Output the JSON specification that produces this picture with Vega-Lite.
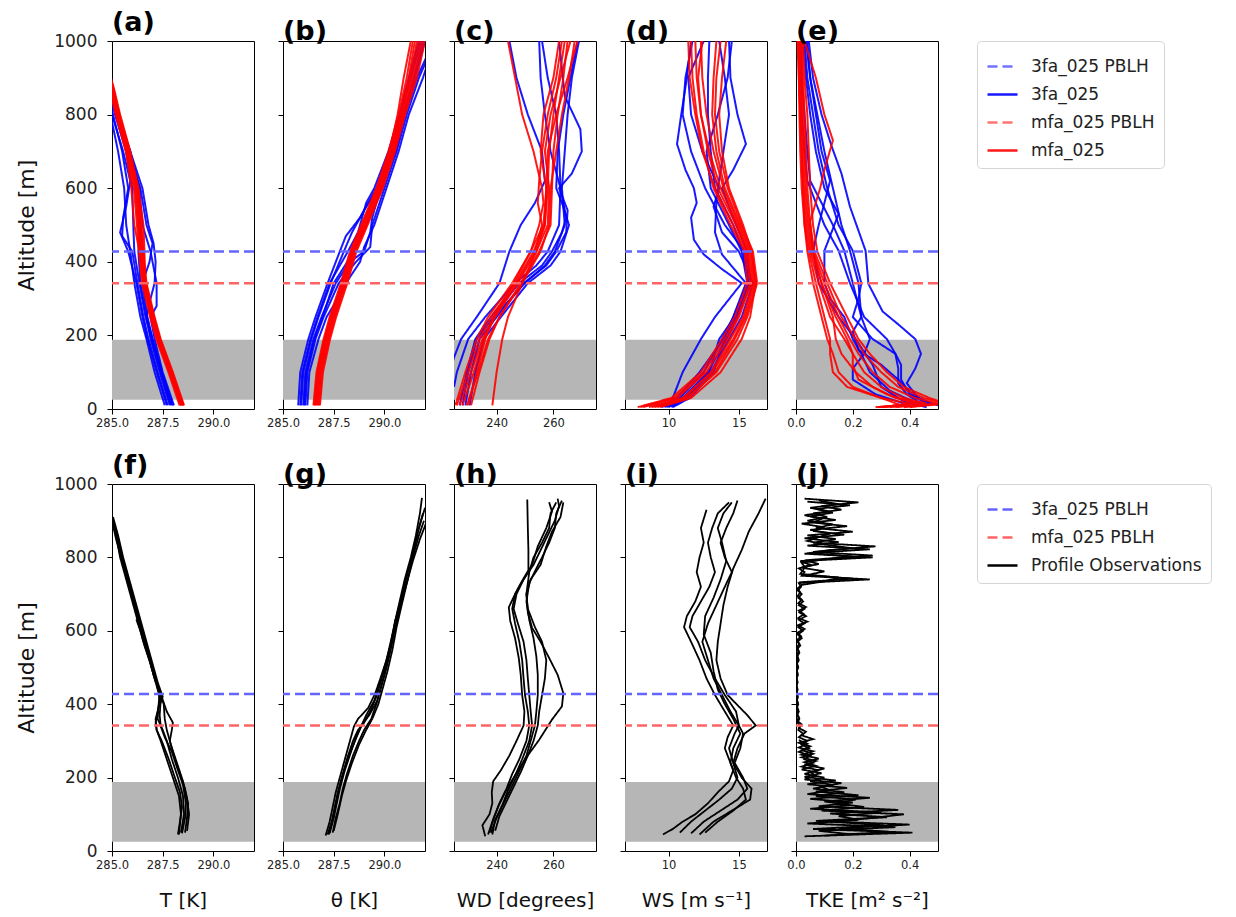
{
"$schema":"https://vega.github.io/schema/vega-lite/v6.json",
"background":"white",
"padding":{"left":15,"top":8,"right":5,"bottom":5},
"config":{
 "font":"DejaVu Sans",
 "view":{"stroke":"#000","strokeWidth":1},
 "axis":{"grid":false,"domain":false,"tickColor":"#000","tickSize":5,"labelColor":"#222","titleColor":"#111","titleFontWeight":"normal","labelFontSize":11.5,"labelPadding":3,"labelOverlap":false,"labelFlush":false},
 "title":{"anchor":"start","fontSize":27,"fontWeight":"bold","offset":-5,"color":"#000","frame":"group"},
 "legend":{"orient":"right","offset":37,"padding":9,"strokeColor":"#d5d5d5","strokeWidth":1,"cornerRadius":4,"fillColor":"white","labelFontSize":17,"labelLimit":400,"labelColor":"#222","symbolType":"stroke","symbolSize":900,"symbolStrokeWidth":2.5,"labelOffset":12,"rowPadding":3}
},
"datasets":{
"band":[{"lo":25,"hi":188}],
"pbl":[{"s":"3fa_025 PBLH","y":428},{"s":"mfa_025 PBLH","y":342}],
"a3":[
{"k":1,"y":10,"x":287.6},{"k":1,"y":100,"x":287.1},{"k":1,"y":190,"x":286.7},{"k":1,"y":250,"x":286.4},{"k":1,"y":342,"x":286.1},{"k":1,"y":428,"x":285.9},{"k":1,"y":500,"x":285.7},{"k":1,"y":600,"x":285.6},{"k":1,"y":700,"x":285.3},{"k":1,"y":780,"x":285.0},{"k":1,"y":900,"x":284.4},
{"k":2,"y":10,"x":287.75},{"k":2,"y":100,"x":287.25},{"k":2,"y":190,"x":286.8},{"k":2,"y":250,"x":286.55},{"k":2,"y":342,"x":286.25},{"k":2,"y":428,"x":286.0},{"k":2,"y":470,"x":285.5},{"k":2,"y":520,"x":285.55},{"k":2,"y":600,"x":285.8},{"k":2,"y":700,"x":285.5},{"k":2,"y":800,"x":285.05},{"k":2,"y":900,"x":284.6},
{"k":3,"y":10,"x":287.85},{"k":3,"y":100,"x":287.35},{"k":3,"y":190,"x":286.9},{"k":3,"y":250,"x":286.7},{"k":3,"y":300,"x":286.9},{"k":3,"y":342,"x":287.1},{"k":3,"y":400,"x":287.15},{"k":3,"y":450,"x":287.05},{"k":3,"y":500,"x":286.8},{"k":3,"y":600,"x":286.5},{"k":3,"y":700,"x":285.9},{"k":3,"y":800,"x":285.3},{"k":3,"y":900,"x":284.8},
{"k":4,"y":10,"x":287.95},{"k":4,"y":100,"x":287.45},{"k":4,"y":190,"x":287.0},{"k":4,"y":250,"x":286.75},{"k":4,"y":342,"x":286.5},{"k":4,"y":400,"x":286.85},{"k":4,"y":450,"x":287.0},{"k":4,"y":500,"x":286.7},{"k":4,"y":600,"x":286.4},{"k":4,"y":700,"x":285.8},{"k":4,"y":800,"x":285.2},{"k":4,"y":900,"x":284.8},
{"k":5,"y":10,"x":288.05},{"k":5,"y":100,"x":287.5},{"k":5,"y":190,"x":287.1},{"k":5,"y":250,"x":286.9},{"k":5,"y":280,"x":287.2},{"k":5,"y":342,"x":287.2},{"k":5,"y":428,"x":286.9},{"k":5,"y":500,"x":286.5},{"k":5,"y":600,"x":286.35},{"k":5,"y":700,"x":285.9},{"k":5,"y":800,"x":285.3},{"k":5,"y":900,"x":284.8},
{"k":6,"y":10,"x":287.7},{"k":6,"y":100,"x":287.2},{"k":6,"y":190,"x":286.75},{"k":6,"y":250,"x":286.5},{"k":6,"y":342,"x":286.2},{"k":6,"y":428,"x":285.8},{"k":6,"y":480,"x":285.4},{"k":6,"y":550,"x":285.7},{"k":6,"y":620,"x":285.9},{"k":6,"y":700,"x":285.55},{"k":6,"y":800,"x":285.0},{"k":6,"y":900,"x":284.5},
{"k":7,"y":10,"x":287.9},{"k":7,"y":100,"x":287.4},{"k":7,"y":190,"x":286.95},{"k":7,"y":250,"x":286.65},{"k":7,"y":342,"x":286.35},{"k":7,"y":428,"x":286.1},{"k":7,"y":500,"x":286.05},{"k":7,"y":600,"x":286.0},{"k":7,"y":700,"x":285.7},{"k":7,"y":800,"x":285.15},{"k":7,"y":900,"x":284.7},
{"k":8,"y":10,"x":288.0},{"k":8,"y":100,"x":287.45},{"k":8,"y":190,"x":287.0},{"k":8,"y":250,"x":286.7},{"k":8,"y":342,"x":286.4},{"k":8,"y":428,"x":286.3},{"k":8,"y":500,"x":286.4},{"k":8,"y":600,"x":286.3},{"k":8,"y":700,"x":285.85},{"k":8,"y":800,"x":285.25},{"k":8,"y":900,"x":284.75}
],
"am":[
{"k":1,"y":10,"x":288.33},{"k":1,"y":100,"x":287.78},{"k":1,"y":190,"x":287.18},{"k":1,"y":250,"x":286.88},{"k":1,"y":342,"x":286.48},{"k":1,"y":428,"x":286.33},{"k":1,"y":500,"x":286.23},{"k":1,"y":600,"x":286.08},{"k":1,"y":700,"x":285.68},{"k":1,"y":800,"x":285.18},{"k":1,"y":870,"x":284.88},{"k":1,"y":950,"x":284.48},
{"k":2,"y":10,"x":288.39},{"k":2,"y":100,"x":287.84},{"k":2,"y":190,"x":287.24},{"k":2,"y":250,"x":286.94},{"k":2,"y":342,"x":286.54},{"k":2,"y":428,"x":286.39},{"k":2,"y":500,"x":286.29},{"k":2,"y":600,"x":286.14},{"k":2,"y":700,"x":285.74},{"k":2,"y":800,"x":285.24},{"k":2,"y":870,"x":284.94},{"k":2,"y":950,"x":284.54},
{"k":3,"y":10,"x":288.43},{"k":3,"y":100,"x":287.88},{"k":3,"y":190,"x":287.28},{"k":3,"y":250,"x":286.98},{"k":3,"y":342,"x":286.58},{"k":3,"y":428,"x":286.43},{"k":3,"y":500,"x":286.33},{"k":3,"y":600,"x":286.18},{"k":3,"y":700,"x":285.78},{"k":3,"y":800,"x":285.28},{"k":3,"y":870,"x":284.98},{"k":3,"y":950,"x":284.58},
{"k":4,"y":10,"x":288.48},{"k":4,"y":100,"x":287.93},{"k":4,"y":190,"x":287.33},{"k":4,"y":250,"x":287.03},{"k":4,"y":342,"x":286.63},{"k":4,"y":428,"x":286.48},{"k":4,"y":500,"x":286.38},{"k":4,"y":600,"x":286.23},{"k":4,"y":700,"x":285.83},{"k":4,"y":800,"x":285.33},{"k":4,"y":870,"x":285.03},{"k":4,"y":950,"x":284.63},
{"k":5,"y":10,"x":288.52},{"k":5,"y":100,"x":287.97},{"k":5,"y":190,"x":287.37},{"k":5,"y":250,"x":287.07},{"k":5,"y":342,"x":286.67},{"k":5,"y":428,"x":286.52},{"k":5,"y":500,"x":286.42},{"k":5,"y":600,"x":286.27},{"k":5,"y":700,"x":285.87},{"k":5,"y":800,"x":285.37},{"k":5,"y":870,"x":285.07},{"k":5,"y":950,"x":284.67},
{"k":6,"y":10,"x":288.55},{"k":6,"y":100,"x":288.0},{"k":6,"y":190,"x":287.4},{"k":6,"y":250,"x":287.1},{"k":6,"y":342,"x":286.7},{"k":6,"y":428,"x":286.55},{"k":6,"y":500,"x":286.45},{"k":6,"y":600,"x":286.3},{"k":6,"y":700,"x":285.9},{"k":6,"y":800,"x":285.4},{"k":6,"y":870,"x":285.1},{"k":6,"y":950,"x":284.7},
{"k":7,"y":10,"x":288.4},{"k":7,"y":100,"x":287.85},{"k":7,"y":190,"x":287.25},{"k":7,"y":250,"x":286.95},{"k":7,"y":342,"x":286.55},{"k":7,"y":428,"x":286.35},{"k":7,"y":500,"x":286.1},{"k":7,"y":600,"x":285.95},{"k":7,"y":700,"x":285.7},{"k":7,"y":800,"x":285.25},{"k":7,"y":870,"x":284.95},{"k":7,"y":950,"x":284.55},
{"k":8,"y":10,"x":288.5},{"k":8,"y":100,"x":287.95},{"k":8,"y":190,"x":287.35},{"k":8,"y":250,"x":287.05},{"k":8,"y":342,"x":286.62},{"k":8,"y":428,"x":286.6},{"k":8,"y":500,"x":286.55},{"k":8,"y":600,"x":286.3},{"k":8,"y":700,"x":285.85},{"k":8,"y":800,"x":285.35},{"k":8,"y":870,"x":285.05},{"k":8,"y":950,"x":284.65}
],
"b3":[
{"k":1,"y":10,"x":285.75},{"k":1,"y":100,"x":285.85},{"k":1,"y":190,"x":286.25},{"k":1,"y":250,"x":286.6},{"k":1,"y":342,"x":287.2},{"k":1,"y":428,"x":287.8},{"k":1,"y":470,"x":288.1},{"k":1,"y":520,"x":288.8},{"k":1,"y":600,"x":289.6},{"k":1,"y":700,"x":290.3},{"k":1,"y":800,"x":290.8},{"k":1,"y":900,"x":291.3},{"k":1,"y":1000,"x":291.8},
{"k":2,"y":10,"x":285.9},{"k":2,"y":100,"x":286.0},{"k":2,"y":190,"x":286.4},{"k":2,"y":250,"x":286.75},{"k":2,"y":342,"x":287.35},{"k":2,"y":428,"x":288.0},{"k":2,"y":480,"x":288.4},{"k":2,"y":550,"x":289.1},{"k":2,"y":600,"x":289.7},{"k":2,"y":700,"x":290.4},{"k":2,"y":800,"x":290.9},{"k":2,"y":900,"x":291.5},{"k":2,"y":1000,"x":292.0},
{"k":3,"y":10,"x":286.0},{"k":3,"y":100,"x":286.1},{"k":3,"y":190,"x":286.5},{"k":3,"y":250,"x":286.9},{"k":3,"y":342,"x":287.6},{"k":3,"y":400,"x":288.3},{"k":3,"y":428,"x":289.0},{"k":3,"y":480,"x":289.3},{"k":3,"y":520,"x":289.4},{"k":3,"y":600,"x":289.8},{"k":3,"y":700,"x":290.55},{"k":3,"y":800,"x":291.0},{"k":3,"y":900,"x":291.6},{"k":3,"y":960,"x":292.1},
{"k":4,"y":10,"x":286.1},{"k":4,"y":100,"x":286.2},{"k":4,"y":190,"x":286.6},{"k":4,"y":250,"x":287.0},{"k":4,"y":342,"x":287.75},{"k":4,"y":400,"x":288.6},{"k":4,"y":440,"x":289.3},{"k":4,"y":500,"x":289.4},{"k":4,"y":600,"x":290.0},{"k":4,"y":700,"x":290.6},{"k":4,"y":800,"x":291.1},{"k":4,"y":900,"x":291.7},{"k":4,"y":950,"x":292.1},
{"k":5,"y":10,"x":286.2},{"k":5,"y":100,"x":286.3},{"k":5,"y":190,"x":286.75},{"k":5,"y":250,"x":287.15},{"k":5,"y":300,"x":287.7},{"k":5,"y":342,"x":288.1},{"k":5,"y":400,"x":288.8},{"k":5,"y":440,"x":289.0},{"k":5,"y":500,"x":289.5},{"k":5,"y":600,"x":290.1},{"k":5,"y":700,"x":290.7},{"k":5,"y":800,"x":291.2},{"k":5,"y":900,"x":291.9},{"k":5,"y":950,"x":292.2},
{"k":6,"y":10,"x":285.85},{"k":6,"y":100,"x":285.95},{"k":6,"y":190,"x":286.35},{"k":6,"y":250,"x":286.7},{"k":6,"y":342,"x":287.3},{"k":6,"y":428,"x":288.2},{"k":6,"y":480,"x":288.7},{"k":6,"y":560,"x":289.1},{"k":6,"y":600,"x":289.5},{"k":6,"y":700,"x":290.2},{"k":6,"y":800,"x":290.75},{"k":6,"y":900,"x":291.2},{"k":6,"y":1000,"x":291.7},
{"k":7,"y":10,"x":286.05},{"k":7,"y":100,"x":286.15},{"k":7,"y":190,"x":286.55},{"k":7,"y":250,"x":286.95},{"k":7,"y":342,"x":287.5},{"k":7,"y":428,"x":288.5},{"k":7,"y":500,"x":289.1},{"k":7,"y":600,"x":289.9},{"k":7,"y":700,"x":290.45},{"k":7,"y":800,"x":290.95},{"k":7,"y":900,"x":291.45},{"k":7,"y":1000,"x":291.9}
],
"bm":[
{"k":1,"y":10,"x":286.5},{"k":1,"y":100,"x":286.65},{"k":1,"y":190,"x":287.0},{"k":1,"y":250,"x":287.3},{"k":1,"y":342,"x":287.85},{"k":1,"y":428,"x":288.3},{"k":1,"y":500,"x":288.85},{"k":1,"y":600,"x":289.6},{"k":1,"y":700,"x":290.2},{"k":1,"y":800,"x":290.7},{"k":1,"y":900,"x":291.1},{"k":1,"y":1000,"x":291.4},
{"k":2,"y":10,"x":286.57},{"k":2,"y":100,"x":286.72},{"k":2,"y":190,"x":287.07},{"k":2,"y":250,"x":287.37},{"k":2,"y":342,"x":287.92},{"k":2,"y":428,"x":288.37},{"k":2,"y":500,"x":288.92},{"k":2,"y":600,"x":289.67},{"k":2,"y":700,"x":290.27},{"k":2,"y":800,"x":290.77},{"k":2,"y":900,"x":291.2},{"k":2,"y":1000,"x":291.5},
{"k":3,"y":10,"x":286.62},{"k":3,"y":100,"x":286.77},{"k":3,"y":190,"x":287.12},{"k":3,"y":250,"x":287.42},{"k":3,"y":342,"x":287.97},{"k":3,"y":428,"x":288.42},{"k":3,"y":500,"x":288.97},{"k":3,"y":600,"x":289.72},{"k":3,"y":700,"x":290.32},{"k":3,"y":800,"x":290.82},{"k":3,"y":900,"x":291.27},{"k":3,"y":1000,"x":291.6},
{"k":4,"y":10,"x":286.67},{"k":4,"y":100,"x":286.82},{"k":4,"y":190,"x":287.17},{"k":4,"y":250,"x":287.47},{"k":4,"y":342,"x":288.02},{"k":4,"y":428,"x":288.47},{"k":4,"y":500,"x":289.02},{"k":4,"y":600,"x":289.77},{"k":4,"y":700,"x":290.37},{"k":4,"y":800,"x":290.87},{"k":4,"y":900,"x":291.35},{"k":4,"y":1000,"x":291.7},
{"k":5,"y":10,"x":286.72},{"k":5,"y":100,"x":286.87},{"k":5,"y":190,"x":287.22},{"k":5,"y":250,"x":287.52},{"k":5,"y":342,"x":288.07},{"k":5,"y":428,"x":288.52},{"k":5,"y":500,"x":289.07},{"k":5,"y":600,"x":289.82},{"k":5,"y":700,"x":290.42},{"k":5,"y":800,"x":290.92},{"k":5,"y":900,"x":291.42},{"k":5,"y":1000,"x":291.8},
{"k":6,"y":10,"x":286.77},{"k":6,"y":100,"x":286.92},{"k":6,"y":190,"x":287.27},{"k":6,"y":250,"x":287.57},{"k":6,"y":342,"x":288.12},{"k":6,"y":428,"x":288.57},{"k":6,"y":500,"x":289.12},{"k":6,"y":600,"x":289.87},{"k":6,"y":700,"x":290.47},{"k":6,"y":800,"x":290.97},{"k":6,"y":900,"x":291.5},{"k":6,"y":1000,"x":291.9},
{"k":7,"y":10,"x":286.82},{"k":7,"y":100,"x":286.97},{"k":7,"y":190,"x":287.32},{"k":7,"y":250,"x":287.62},{"k":7,"y":342,"x":288.17},{"k":7,"y":428,"x":288.62},{"k":7,"y":500,"x":289.17},{"k":7,"y":600,"x":289.92},{"k":7,"y":700,"x":290.52},{"k":7,"y":800,"x":291.02},{"k":7,"y":900,"x":291.6},{"k":7,"y":1000,"x":292.0},
{"k":8,"y":10,"x":286.55},{"k":8,"y":100,"x":286.7},{"k":8,"y":190,"x":287.05},{"k":8,"y":250,"x":287.35},{"k":8,"y":342,"x":287.9},{"k":8,"y":428,"x":288.35},{"k":8,"y":500,"x":288.9},{"k":8,"y":600,"x":289.65},{"k":8,"y":700,"x":290.25},{"k":8,"y":800,"x":290.65},{"k":8,"y":900,"x":290.95},{"k":8,"y":1000,"x":291.3}
],
"c3":[
{"k":1,"y":100,"x":223.5},{"k":1,"y":140,"x":225},{"k":1,"y":190,"x":227.5},{"k":1,"y":250,"x":233},{"k":1,"y":342,"x":241},{"k":1,"y":428,"x":244.5},{"k":1,"y":500,"x":248.5},{"k":1,"y":560,"x":253.5},{"k":1,"y":620,"x":257},{"k":1,"y":700,"x":256},{"k":1,"y":800,"x":251},{"k":1,"y":900,"x":247},{"k":1,"y":1000,"x":244.5},
{"k":2,"y":10,"x":227},{"k":2,"y":100,"x":229.5},{"k":2,"y":190,"x":232.5},{"k":2,"y":250,"x":238},{"k":2,"y":342,"x":248},{"k":2,"y":390,"x":256},{"k":2,"y":428,"x":259.5},{"k":2,"y":480,"x":263},{"k":2,"y":520,"x":264.5},{"k":2,"y":600,"x":262.5},{"k":2,"y":700,"x":262},{"k":2,"y":800,"x":261},{"k":2,"y":900,"x":258},{"k":2,"y":1000,"x":256},
{"k":3,"y":10,"x":229},{"k":3,"y":100,"x":231},{"k":3,"y":190,"x":234},{"k":3,"y":250,"x":240},{"k":3,"y":342,"x":249.5},{"k":3,"y":390,"x":257.5},{"k":3,"y":428,"x":261},{"k":3,"y":480,"x":264.5},{"k":3,"y":540,"x":265},{"k":3,"y":600,"x":262},{"k":3,"y":640,"x":266.5},{"k":3,"y":700,"x":270},{"k":3,"y":760,"x":269.5},{"k":3,"y":850,"x":264},{"k":3,"y":1000,"x":262},
{"k":4,"y":10,"x":230.5},{"k":4,"y":100,"x":232.5},{"k":4,"y":190,"x":235.5},{"k":4,"y":250,"x":241.5},{"k":4,"y":342,"x":251},{"k":4,"y":390,"x":259},{"k":4,"y":428,"x":262.5},{"k":4,"y":500,"x":265.5},{"k":4,"y":560,"x":263},{"k":4,"y":600,"x":261},{"k":4,"y":700,"x":261.5},{"k":4,"y":800,"x":263.5},{"k":4,"y":900,"x":266},{"k":4,"y":1000,"x":268.5},
{"k":5,"y":60,"x":225},{"k":5,"y":100,"x":226},{"k":5,"y":190,"x":230},{"k":5,"y":250,"x":236},{"k":5,"y":342,"x":246.5},{"k":5,"y":390,"x":254},{"k":5,"y":428,"x":258},{"k":5,"y":500,"x":262},{"k":5,"y":600,"x":262.5},{"k":5,"y":700,"x":259},{"k":5,"y":800,"x":257},{"k":5,"y":900,"x":255.5},{"k":5,"y":1000,"x":255},
{"k":6,"y":10,"x":228},{"k":6,"y":100,"x":230},{"k":6,"y":190,"x":233},{"k":6,"y":250,"x":239},{"k":6,"y":342,"x":250},{"k":6,"y":390,"x":257},{"k":6,"y":428,"x":260.5},{"k":6,"y":500,"x":264},{"k":6,"y":600,"x":263},{"k":6,"y":700,"x":264},{"k":6,"y":800,"x":265},{"k":6,"y":900,"x":266.5},{"k":6,"y":1000,"x":269}
],
"cm":[
{"k":1,"y":10,"x":230},{"k":1,"y":100,"x":233},{"k":1,"y":190,"x":236},{"k":1,"y":250,"x":239},{"k":1,"y":342,"x":246},{"k":1,"y":428,"x":252},{"k":1,"y":500,"x":255},{"k":1,"y":560,"x":256.5},{"k":1,"y":600,"x":256},{"k":1,"y":700,"x":253},{"k":1,"y":800,"x":249},{"k":1,"y":900,"x":246.5},{"k":1,"y":1000,"x":244},
{"k":2,"y":10,"x":226},{"k":2,"y":100,"x":230},{"k":2,"y":190,"x":234},{"k":2,"y":250,"x":238},{"k":2,"y":342,"x":246.5},{"k":2,"y":428,"x":253},{"k":2,"y":500,"x":257},{"k":2,"y":600,"x":258},{"k":2,"y":700,"x":258.5},{"k":2,"y":800,"x":260},{"k":2,"y":900,"x":262},{"k":2,"y":1000,"x":264},
{"k":3,"y":10,"x":228},{"k":3,"y":100,"x":232},{"k":3,"y":190,"x":235.5},{"k":3,"y":250,"x":239.5},{"k":3,"y":342,"x":247.5},{"k":3,"y":428,"x":254},{"k":3,"y":500,"x":258},{"k":3,"y":600,"x":258.5},{"k":3,"y":700,"x":257},{"k":3,"y":800,"x":259},{"k":3,"y":900,"x":262.5},{"k":3,"y":1000,"x":266},
{"k":4,"y":10,"x":229.5},{"k":4,"y":100,"x":233.5},{"k":4,"y":190,"x":237},{"k":4,"y":250,"x":241},{"k":4,"y":342,"x":248.5},{"k":4,"y":428,"x":255},{"k":4,"y":500,"x":259},{"k":4,"y":600,"x":259.5},{"k":4,"y":700,"x":260},{"k":4,"y":800,"x":261.5},{"k":4,"y":900,"x":263.5},{"k":4,"y":1000,"x":265},
{"k":5,"y":10,"x":238.5},{"k":5,"y":100,"x":240},{"k":5,"y":190,"x":242},{"k":5,"y":250,"x":244},{"k":5,"y":342,"x":249},{"k":5,"y":428,"x":254},{"k":5,"y":500,"x":257},{"k":5,"y":600,"x":257.5},{"k":5,"y":700,"x":258},{"k":5,"y":800,"x":261},{"k":5,"y":900,"x":265},{"k":5,"y":1000,"x":268.5},
{"k":6,"y":10,"x":227},{"k":6,"y":100,"x":231},{"k":6,"y":190,"x":235},{"k":6,"y":250,"x":239},{"k":6,"y":342,"x":247},{"k":6,"y":428,"x":253.5},{"k":6,"y":500,"x":256},{"k":6,"y":560,"x":254.5},{"k":6,"y":620,"x":255},{"k":6,"y":700,"x":256},{"k":6,"y":800,"x":258},{"k":6,"y":900,"x":261},{"k":6,"y":1000,"x":263},
{"k":7,"y":10,"x":231},{"k":7,"y":100,"x":234},{"k":7,"y":190,"x":237.5},{"k":7,"y":250,"x":241},{"k":7,"y":342,"x":249},{"k":7,"y":428,"x":255.5},{"k":7,"y":500,"x":258.5},{"k":7,"y":600,"x":259},{"k":7,"y":700,"x":261},{"k":7,"y":800,"x":263},{"k":7,"y":900,"x":265.5},{"k":7,"y":1000,"x":267.5},
{"k":8,"y":10,"x":225.5},{"k":8,"y":100,"x":229},{"k":8,"y":190,"x":233},{"k":8,"y":250,"x":237},{"k":8,"y":342,"x":245.5},{"k":8,"y":428,"x":252},{"k":8,"y":500,"x":256.5},{"k":8,"y":600,"x":257.5},{"k":8,"y":700,"x":255.5},{"k":8,"y":800,"x":256.5},{"k":8,"y":900,"x":260},{"k":8,"y":1000,"x":262}
],
"d3":[
{"k":1,"y":5,"x":9.8},{"k":1,"y":30,"x":10.3},{"k":1,"y":100,"x":11.0},{"k":1,"y":190,"x":12.3},{"k":1,"y":250,"x":13.3},{"k":1,"y":342,"x":15.2},{"k":1,"y":380,"x":13.8},{"k":1,"y":420,"x":12.5},{"k":1,"y":460,"x":11.8},{"k":1,"y":520,"x":11.6},{"k":1,"y":560,"x":12.0},{"k":1,"y":600,"x":11.8},{"k":1,"y":650,"x":11.2},{"k":1,"y":720,"x":10.6},{"k":1,"y":800,"x":10.9},{"k":1,"y":900,"x":11.3},{"k":1,"y":1000,"x":11.6},
{"k":2,"y":5,"x":9.5},{"k":2,"y":30,"x":10.8},{"k":2,"y":100,"x":12.5},{"k":2,"y":190,"x":13.8},{"k":2,"y":250,"x":14.6},{"k":2,"y":342,"x":15.6},{"k":2,"y":428,"x":15.2},{"k":2,"y":500,"x":14.3},{"k":2,"y":600,"x":13.0},{"k":2,"y":700,"x":12.7},{"k":2,"y":800,"x":13.5},{"k":2,"y":900,"x":14.2},{"k":2,"y":1000,"x":14.5},
{"k":3,"y":5,"x":9.9},{"k":3,"y":30,"x":11.0},{"k":3,"y":100,"x":12.8},{"k":3,"y":190,"x":14.1},{"k":3,"y":250,"x":14.9},{"k":3,"y":342,"x":15.8},{"k":3,"y":428,"x":15.6},{"k":3,"y":500,"x":14.8},{"k":3,"y":600,"x":13.8},{"k":3,"y":650,"x":14.6},{"k":3,"y":720,"x":15.5},{"k":3,"y":800,"x":14.9},{"k":3,"y":900,"x":14.4},{"k":3,"y":1000,"x":14.3},
{"k":4,"y":5,"x":10.2},{"k":4,"y":30,"x":11.3},{"k":4,"y":100,"x":13.0},{"k":4,"y":190,"x":14.3},{"k":4,"y":250,"x":15.2},{"k":4,"y":342,"x":16.0},{"k":4,"y":428,"x":15.0},{"k":4,"y":480,"x":13.8},{"k":4,"y":550,"x":13.2},{"k":4,"y":600,"x":13.6},{"k":4,"y":700,"x":12.4},{"k":4,"y":800,"x":11.6},{"k":4,"y":900,"x":11.4},{"k":4,"y":1000,"x":12.5},
{"k":5,"y":5,"x":10.0},{"k":5,"y":30,"x":11.2},{"k":5,"y":100,"x":12.9},{"k":5,"y":190,"x":13.6},{"k":5,"y":250,"x":14.7},{"k":5,"y":342,"x":15.9},{"k":5,"y":428,"x":15.4},{"k":5,"y":500,"x":14.0},{"k":5,"y":600,"x":12.6},{"k":5,"y":700,"x":11.6},{"k":5,"y":800,"x":11.0},{"k":5,"y":900,"x":11.2},{"k":5,"y":1000,"x":11.7},
{"k":6,"y":5,"x":9.7},{"k":6,"y":30,"x":10.6},{"k":6,"y":100,"x":12.2},{"k":6,"y":190,"x":13.9},{"k":6,"y":250,"x":14.8},{"k":6,"y":342,"x":15.7},{"k":6,"y":428,"x":15.3},{"k":6,"y":500,"x":14.6},{"k":6,"y":600,"x":13.3},{"k":6,"y":700,"x":13.0},{"k":6,"y":800,"x":12.8},{"k":6,"y":900,"x":12.8},{"k":6,"y":1000,"x":12.9},
{"k":7,"y":5,"x":10.3},{"k":7,"y":30,"x":11.5},{"k":7,"y":100,"x":13.2},{"k":7,"y":190,"x":14.0},{"k":7,"y":250,"x":14.6},{"k":7,"y":342,"x":15.5},{"k":7,"y":420,"x":13.8},{"k":7,"y":480,"x":13.3},{"k":7,"y":560,"x":13.4},{"k":7,"y":600,"x":13.5},{"k":7,"y":700,"x":13.9},{"k":7,"y":800,"x":14.3},{"k":7,"y":900,"x":14.0},{"k":7,"y":1000,"x":13.6}
],
"dm":[
{"k":1,"y":5,"x":7.8},{"k":1,"y":30,"x":10.2},{"k":1,"y":100,"x":12.3},{"k":1,"y":190,"x":13.8},{"k":1,"y":250,"x":14.7},{"k":1,"y":342,"x":15.6},{"k":1,"y":428,"x":15.4},{"k":1,"y":500,"x":14.4},{"k":1,"y":600,"x":13.2},{"k":1,"y":700,"x":12.5},{"k":1,"y":800,"x":12.0},{"k":1,"y":900,"x":11.7},{"k":1,"y":1000,"x":11.6},
{"k":2,"y":5,"x":8.2},{"k":2,"y":30,"x":10.6},{"k":2,"y":100,"x":12.7},{"k":2,"y":190,"x":14.2},{"k":2,"y":250,"x":15.0},{"k":2,"y":342,"x":15.9},{"k":2,"y":428,"x":15.6},{"k":2,"y":500,"x":14.8},{"k":2,"y":600,"x":13.5},{"k":2,"y":700,"x":12.8},{"k":2,"y":800,"x":12.3},{"k":2,"y":900,"x":12.0},{"k":2,"y":1000,"x":11.9},
{"k":3,"y":5,"x":8.6},{"k":3,"y":30,"x":11.0},{"k":3,"y":100,"x":13.1},{"k":3,"y":190,"x":14.6},{"k":3,"y":250,"x":15.4},{"k":3,"y":342,"x":16.1},{"k":3,"y":428,"x":15.8},{"k":3,"y":500,"x":15.0},{"k":3,"y":600,"x":13.9},{"k":3,"y":700,"x":13.2},{"k":3,"y":800,"x":12.7},{"k":3,"y":900,"x":12.4},{"k":3,"y":1000,"x":12.3},
{"k":4,"y":5,"x":9.0},{"k":4,"y":30,"x":11.3},{"k":4,"y":100,"x":13.4},{"k":4,"y":190,"x":14.9},{"k":4,"y":250,"x":15.6},{"k":4,"y":342,"x":16.3},{"k":4,"y":428,"x":16.0},{"k":4,"y":500,"x":15.2},{"k":4,"y":600,"x":14.2},{"k":4,"y":700,"x":13.6},{"k":4,"y":800,"x":13.3},{"k":4,"y":900,"x":13.4},{"k":4,"y":1000,"x":13.7},
{"k":5,"y":5,"x":9.4},{"k":5,"y":30,"x":11.6},{"k":5,"y":100,"x":13.7},{"k":5,"y":190,"x":15.2},{"k":5,"y":250,"x":15.8},{"k":5,"y":342,"x":16.2},{"k":5,"y":428,"x":15.9},{"k":5,"y":500,"x":15.3},{"k":5,"y":600,"x":14.3},{"k":5,"y":700,"x":13.8},{"k":5,"y":800,"x":13.6},{"k":5,"y":900,"x":13.8},{"k":5,"y":1000,"x":14.1},
{"k":6,"y":5,"x":8.0},{"k":6,"y":30,"x":10.4},{"k":6,"y":100,"x":12.5},{"k":6,"y":190,"x":14.0},{"k":6,"y":250,"x":14.9},{"k":6,"y":342,"x":15.8},{"k":6,"y":428,"x":15.5},{"k":6,"y":500,"x":14.6},{"k":6,"y":600,"x":13.3},{"k":6,"y":700,"x":12.4},{"k":6,"y":800,"x":11.9},{"k":6,"y":900,"x":11.5},{"k":6,"y":1000,"x":11.4},
{"k":7,"y":5,"x":8.8},{"k":7,"y":30,"x":11.1},{"k":7,"y":100,"x":13.0},{"k":7,"y":190,"x":14.4},{"k":7,"y":250,"x":15.3},{"k":7,"y":342,"x":16.0},{"k":7,"y":428,"x":15.7},{"k":7,"y":500,"x":14.9},{"k":7,"y":600,"x":13.7},{"k":7,"y":700,"x":12.9},{"k":7,"y":800,"x":12.3},{"k":7,"y":900,"x":12.1},{"k":7,"y":1000,"x":12.4},
{"k":8,"y":5,"x":9.2},{"k":8,"y":30,"x":11.4},{"k":8,"y":100,"x":13.3},{"k":8,"y":190,"x":14.7},{"k":8,"y":250,"x":15.5},{"k":8,"y":342,"x":16.2},{"k":8,"y":428,"x":15.9},{"k":8,"y":500,"x":15.1},{"k":8,"y":600,"x":14.0},{"k":8,"y":700,"x":13.4},{"k":8,"y":800,"x":13.1},{"k":8,"y":900,"x":13.2},{"k":8,"y":1000,"x":13.4}
],
"e3":[
{"k":1,"y":10,"x":0.5},{"k":1,"y":30,"x":0.43},{"k":1,"y":70,"x":0.39},{"k":1,"y":110,"x":0.42},{"k":1,"y":150,"x":0.44},{"k":1,"y":190,"x":0.42},{"k":1,"y":230,"x":0.36},{"k":1,"y":265,"x":0.305},{"k":1,"y":340,"x":0.255},{"k":1,"y":430,"x":0.245},{"k":1,"y":550,"x":0.19},{"k":1,"y":640,"x":0.16},{"k":1,"y":715,"x":0.125},{"k":1,"y":800,"x":0.09},{"k":1,"y":900,"x":0.06},{"k":1,"y":1000,"x":0.045},
{"k":2,"y":10,"x":0.47},{"k":2,"y":40,"x":0.4},{"k":2,"y":80,"x":0.37},{"k":2,"y":120,"x":0.37},{"k":2,"y":150,"x":0.35},{"k":2,"y":190,"x":0.27},{"k":2,"y":250,"x":0.2},{"k":2,"y":300,"x":0.22},{"k":2,"y":342,"x":0.23},{"k":2,"y":430,"x":0.2},{"k":2,"y":500,"x":0.15},{"k":2,"y":600,"x":0.11},{"k":2,"y":700,"x":0.08},{"k":2,"y":800,"x":0.06},{"k":2,"y":900,"x":0.04},{"k":2,"y":1000,"x":0.03},
{"k":3,"y":10,"x":0.4},{"k":3,"y":40,"x":0.28},{"k":3,"y":80,"x":0.2},{"k":3,"y":110,"x":0.2},{"k":3,"y":150,"x":0.24},{"k":3,"y":190,"x":0.26},{"k":3,"y":250,"x":0.23},{"k":3,"y":342,"x":0.2},{"k":3,"y":430,"x":0.17},{"k":3,"y":500,"x":0.13},{"k":3,"y":560,"x":0.09},{"k":3,"y":620,"x":0.05},{"k":3,"y":700,"x":0.04},{"k":3,"y":800,"x":0.03},{"k":3,"y":900,"x":0.02},{"k":3,"y":1000,"x":0.02},
{"k":4,"y":10,"x":0.44},{"k":4,"y":50,"x":0.33},{"k":4,"y":100,"x":0.26},{"k":4,"y":150,"x":0.23},{"k":4,"y":190,"x":0.2},{"k":4,"y":250,"x":0.17},{"k":4,"y":300,"x":0.12},{"k":4,"y":342,"x":0.1},{"k":4,"y":430,"x":0.1},{"k":4,"y":470,"x":0.12},{"k":4,"y":530,"x":0.15},{"k":4,"y":600,"x":0.1},{"k":4,"y":700,"x":0.07},{"k":4,"y":800,"x":0.05},{"k":4,"y":900,"x":0.035},{"k":4,"y":1000,"x":0.025},
{"k":5,"y":10,"x":0.48},{"k":5,"y":40,"x":0.41},{"k":5,"y":80,"x":0.36},{"k":5,"y":120,"x":0.3},{"k":5,"y":160,"x":0.22},{"k":5,"y":210,"x":0.2},{"k":5,"y":250,"x":0.23},{"k":5,"y":342,"x":0.22},{"k":5,"y":430,"x":0.19},{"k":5,"y":500,"x":0.16},{"k":5,"y":600,"x":0.13},{"k":5,"y":700,"x":0.1},{"k":5,"y":800,"x":0.075},{"k":5,"y":900,"x":0.05},{"k":5,"y":1000,"x":0.035},
{"k":6,"y":10,"x":0.45},{"k":6,"y":40,"x":0.39},{"k":6,"y":70,"x":0.36},{"k":6,"y":110,"x":0.36},{"k":6,"y":150,"x":0.35},{"k":6,"y":190,"x":0.32},{"k":6,"y":250,"x":0.24},{"k":6,"y":342,"x":0.19},{"k":6,"y":430,"x":0.15},{"k":6,"y":500,"x":0.1},{"k":6,"y":560,"x":0.07},{"k":6,"y":620,"x":0.04},{"k":6,"y":700,"x":0.03},{"k":6,"y":800,"x":0.02},{"k":6,"y":1000,"x":0.015},
{"k":7,"y":5,"x":0.46},{"k":7,"y":20,"x":0.38},{"k":7,"y":60,"x":0.3},{"k":7,"y":120,"x":0.27},{"k":7,"y":190,"x":0.21},{"k":7,"y":250,"x":0.15},{"k":7,"y":342,"x":0.08},{"k":7,"y":430,"x":0.06},{"k":7,"y":500,"x":0.08},{"k":7,"y":560,"x":0.1},{"k":7,"y":620,"x":0.12},{"k":7,"y":700,"x":0.09},{"k":7,"y":800,"x":0.07},{"k":7,"y":900,"x":0.05},{"k":7,"y":1000,"x":0.04}
],
"em":[
{"k":1,"y":5,"x":0.28},{"k":1,"y":10,"x":0.37},{"k":1,"y":30,"x":0.3},{"k":1,"y":60,"x":0.2},{"k":1,"y":100,"x":0.15},{"k":1,"y":150,"x":0.13},{"k":1,"y":190,"x":0.11},{"k":1,"y":250,"x":0.09},{"k":1,"y":342,"x":0.06},{"k":1,"y":428,"x":0.04},{"k":1,"y":500,"x":0.03},{"k":1,"y":600,"x":0.025},{"k":1,"y":700,"x":0.02},{"k":1,"y":800,"x":0.015},{"k":1,"y":900,"x":0.012},{"k":1,"y":1000,"x":0.01},
{"k":2,"y":5,"x":0.3},{"k":2,"y":15,"x":0.4},{"k":2,"y":30,"x":0.3},{"k":2,"y":60,"x":0.18},{"k":2,"y":100,"x":0.13},{"k":2,"y":150,"x":0.12},{"k":2,"y":190,"x":0.12},{"k":2,"y":250,"x":0.1},{"k":2,"y":342,"x":0.07},{"k":2,"y":428,"x":0.045},{"k":2,"y":500,"x":0.03},{"k":2,"y":600,"x":0.02},{"k":2,"y":700,"x":0.015},{"k":2,"y":800,"x":0.012},{"k":2,"y":900,"x":0.01},{"k":2,"y":1000,"x":0.005},
{"k":3,"y":5,"x":0.33},{"k":3,"y":15,"x":0.46},{"k":3,"y":30,"x":0.38},{"k":3,"y":60,"x":0.3},{"k":3,"y":100,"x":0.24},{"k":3,"y":150,"x":0.2},{"k":3,"y":190,"x":0.18},{"k":3,"y":250,"x":0.14},{"k":3,"y":342,"x":0.09},{"k":3,"y":428,"x":0.06},{"k":3,"y":510,"x":0.05},{"k":3,"y":600,"x":0.085},{"k":3,"y":650,"x":0.1},{"k":3,"y":730,"x":0.13},{"k":3,"y":800,"x":0.1},{"k":3,"y":900,"x":0.07},{"k":3,"y":1000,"x":0.03},
{"k":4,"y":5,"x":0.35},{"k":4,"y":15,"x":0.5},{"k":4,"y":30,"x":0.42},{"k":4,"y":60,"x":0.33},{"k":4,"y":100,"x":0.27},{"k":4,"y":150,"x":0.22},{"k":4,"y":190,"x":0.19},{"k":4,"y":250,"x":0.15},{"k":4,"y":342,"x":0.1},{"k":4,"y":428,"x":0.06},{"k":4,"y":500,"x":0.045},{"k":4,"y":600,"x":0.035},{"k":4,"y":700,"x":0.03},{"k":4,"y":800,"x":0.025},{"k":4,"y":900,"x":0.02},{"k":4,"y":1000,"x":0.015},
{"k":5,"y":5,"x":0.38},{"k":5,"y":15,"x":0.52},{"k":5,"y":30,"x":0.45},{"k":5,"y":60,"x":0.36},{"k":5,"y":100,"x":0.3},{"k":5,"y":150,"x":0.24},{"k":5,"y":190,"x":0.21},{"k":5,"y":250,"x":0.16},{"k":5,"y":342,"x":0.11},{"k":5,"y":428,"x":0.065},{"k":5,"y":500,"x":0.05},{"k":5,"y":600,"x":0.04},{"k":5,"y":700,"x":0.035},{"k":5,"y":800,"x":0.03},{"k":5,"y":900,"x":0.025},{"k":5,"y":1000,"x":0.02},
{"k":6,"y":5,"x":0.29},{"k":6,"y":15,"x":0.42},{"k":6,"y":40,"x":0.32},{"k":6,"y":80,"x":0.22},{"k":6,"y":120,"x":0.2},{"k":6,"y":150,"x":0.2},{"k":6,"y":190,"x":0.17},{"k":6,"y":250,"x":0.12},{"k":6,"y":342,"x":0.08},{"k":6,"y":428,"x":0.05},{"k":6,"y":500,"x":0.035},{"k":6,"y":600,"x":0.025},{"k":6,"y":700,"x":0.02},{"k":6,"y":800,"x":0.015},{"k":6,"y":900,"x":0.01},{"k":6,"y":1000,"x":0.008},
{"k":7,"y":5,"x":0.4},{"k":7,"y":15,"x":0.53},{"k":7,"y":30,"x":0.47},{"k":7,"y":60,"x":0.38},{"k":7,"y":100,"x":0.32},{"k":7,"y":150,"x":0.26},{"k":7,"y":190,"x":0.22},{"k":7,"y":250,"x":0.18},{"k":7,"y":342,"x":0.12},{"k":7,"y":428,"x":0.075},{"k":7,"y":500,"x":0.06},{"k":7,"y":600,"x":0.05},{"k":7,"y":700,"x":0.045},{"k":7,"y":800,"x":0.04},{"k":7,"y":900,"x":0.03},{"k":7,"y":1000,"x":0.025},
{"k":8,"y":5,"x":0.31},{"k":8,"y":15,"x":0.44},{"k":8,"y":30,"x":0.35},{"k":8,"y":60,"x":0.27},{"k":8,"y":100,"x":0.21},{"k":8,"y":150,"x":0.16},{"k":8,"y":190,"x":0.14},{"k":8,"y":250,"x":0.13},{"k":8,"y":342,"x":0.09},{"k":8,"y":428,"x":0.055},{"k":8,"y":500,"x":0.04},{"k":8,"y":600,"x":0.03},{"k":8,"y":700,"x":0.025},{"k":8,"y":800,"x":0.02},{"k":8,"y":900,"x":0.015},{"k":8,"y":1000,"x":0.012}
],
"f":[
{"k":1,"y":50,"x":288.4},{"k":1,"y":100,"x":288.55},{"k":1,"y":150,"x":288.5},{"k":1,"y":200,"x":288.25},{"k":1,"y":250,"x":287.95},{"k":1,"y":300,"x":287.7},{"k":1,"y":330,"x":287.5},{"k":1,"y":360,"x":287.25},{"k":1,"y":400,"x":287.3},{"k":1,"y":430,"x":287.35},{"k":1,"y":470,"x":287.1},{"k":1,"y":510,"x":286.9},{"k":1,"y":560,"x":286.6},{"k":1,"y":600,"x":286.4},{"k":1,"y":631,"x":286.2},
{"k":2,"y":45,"x":288.25},{"k":2,"y":80,"x":288.35},{"k":2,"y":120,"x":288.45},{"k":2,"y":160,"x":288.35},{"k":2,"y":200,"x":288.1},{"k":2,"y":250,"x":287.8},{"k":2,"y":300,"x":287.45},{"k":2,"y":330,"x":287.2},{"k":2,"y":350,"x":287.15},{"k":2,"y":380,"x":287.25},{"k":2,"y":410,"x":287.35},{"k":2,"y":440,"x":287.3},{"k":2,"y":480,"x":287.05},{"k":2,"y":520,"x":286.85},{"k":2,"y":570,"x":286.55},{"k":2,"y":620,"x":286.3},{"k":2,"y":680,"x":286.0},{"k":2,"y":740,"x":285.7},{"k":2,"y":800,"x":285.4},{"k":2,"y":860,"x":285.2},{"k":2,"y":920,"x":284.9},
{"k":3,"y":50,"x":288.6},{"k":3,"y":90,"x":288.7},{"k":3,"y":130,"x":288.75},{"k":3,"y":170,"x":288.6},{"k":3,"y":210,"x":288.35},{"k":3,"y":260,"x":288.05},{"k":3,"y":300,"x":287.85},{"k":3,"y":330,"x":287.95},{"k":3,"y":350,"x":288.0},{"k":3,"y":380,"x":287.7},{"k":3,"y":420,"x":287.45},{"k":3,"y":460,"x":287.2},{"k":3,"y":510,"x":286.95},{"k":3,"y":560,"x":286.7},{"k":3,"y":620,"x":286.4},{"k":3,"y":680,"x":286.1},{"k":3,"y":740,"x":285.8},{"k":3,"y":800,"x":285.5},{"k":3,"y":860,"x":285.25},{"k":3,"y":900,"x":285.05},{"k":3,"y":950,"x":284.8},
{"k":4,"y":48,"x":288.45},{"k":4,"y":90,"x":288.6},{"k":4,"y":130,"x":288.65},{"k":4,"y":180,"x":288.5},{"k":4,"y":220,"x":288.25},{"k":4,"y":270,"x":287.95},{"k":4,"y":310,"x":287.6},{"k":4,"y":340,"x":287.4},{"k":4,"y":370,"x":287.35},{"k":4,"y":410,"x":287.4},{"k":4,"y":450,"x":287.2},{"k":4,"y":500,"x":286.95},{"k":4,"y":560,"x":286.65},{"k":4,"y":620,"x":286.35},{"k":4,"y":680,"x":286.05},{"k":4,"y":740,"x":285.75},{"k":4,"y":800,"x":285.45},{"k":4,"y":850,"x":285.2},{"k":4,"y":900,"x":285.0},
{"k":5,"y":55,"x":288.7},{"k":5,"y":100,"x":288.8},{"k":5,"y":140,"x":288.7},{"k":5,"y":190,"x":288.5},{"k":5,"y":240,"x":288.2},{"k":5,"y":290,"x":287.9},{"k":5,"y":330,"x":287.7},{"k":5,"y":360,"x":287.6},{"k":5,"y":400,"x":287.55},{"k":5,"y":440,"x":287.3},{"k":5,"y":490,"x":287.05},{"k":5,"y":540,"x":286.8},{"k":5,"y":600,"x":286.5},{"k":5,"y":660,"x":286.2},{"k":5,"y":720,"x":285.9},{"k":5,"y":780,"x":285.6},{"k":5,"y":840,"x":285.35},{"k":5,"y":890,"x":285.1},
{"k":6,"y":45,"x":288.3},{"k":6,"y":100,"x":288.4},{"k":6,"y":150,"x":288.3},{"k":6,"y":200,"x":288.0},{"k":6,"y":250,"x":287.7},{"k":6,"y":300,"x":287.4},{"k":6,"y":330,"x":287.2},{"k":6,"y":360,"x":287.15},{"k":6,"y":390,"x":287.3},{"k":6,"y":420,"x":287.5},{"k":6,"y":460,"x":287.25},{"k":6,"y":510,"x":287.0},{"k":6,"y":560,"x":286.75},{"k":6,"y":620,"x":286.45},{"k":6,"y":680,"x":286.15},{"k":6,"y":740,"x":285.85},{"k":6,"y":800,"x":285.55},{"k":6,"y":860,"x":285.3},{"k":6,"y":910,"x":285.05}
],
"g":[
{"k":1,"y":45,"x":287.2},{"k":1,"y":80,"x":287.4},{"k":1,"y":120,"x":287.55},{"k":1,"y":160,"x":287.7},{"k":1,"y":200,"x":287.9},{"k":1,"y":250,"x":288.15},{"k":1,"y":300,"x":288.45},{"k":1,"y":330,"x":288.7},{"k":1,"y":350,"x":289.0},{"k":1,"y":380,"x":289.3},{"k":1,"y":420,"x":289.6},{"k":1,"y":460,"x":289.8},{"k":1,"y":510,"x":290.1},{"k":1,"y":560,"x":290.3},{"k":1,"y":620,"x":290.5},{"k":1,"y":680,"x":290.75},{"k":1,"y":740,"x":291.0},{"k":1,"y":800,"x":291.3},{"k":1,"y":860,"x":291.55},{"k":1,"y":920,"x":291.75},{"k":1,"y":962,"x":291.85},
{"k":2,"y":42,"x":287.1},{"k":2,"y":80,"x":287.3},{"k":2,"y":120,"x":287.45},{"k":2,"y":160,"x":287.6},{"k":2,"y":200,"x":287.8},{"k":2,"y":250,"x":288.05},{"k":2,"y":300,"x":288.3},{"k":2,"y":340,"x":288.5},{"k":2,"y":360,"x":288.7},{"k":2,"y":390,"x":289.2},{"k":2,"y":430,"x":289.55},{"k":2,"y":470,"x":289.8},{"k":2,"y":520,"x":290.1},{"k":2,"y":580,"x":290.35},{"k":2,"y":640,"x":290.6},{"k":2,"y":700,"x":290.9},{"k":2,"y":760,"x":291.15},{"k":2,"y":820,"x":291.45},{"k":2,"y":880,"x":291.7},{"k":2,"y":935,"x":292.0},
{"k":3,"y":50,"x":287.45},{"k":3,"y":90,"x":287.6},{"k":3,"y":130,"x":287.8},{"k":3,"y":170,"x":287.95},{"k":3,"y":210,"x":288.15},{"k":3,"y":260,"x":288.45},{"k":3,"y":300,"x":288.75},{"k":3,"y":330,"x":289.0},{"k":3,"y":360,"x":289.35},{"k":3,"y":400,"x":289.6},{"k":3,"y":440,"x":289.8},{"k":3,"y":490,"x":290.05},{"k":3,"y":550,"x":290.3},{"k":3,"y":610,"x":290.55},{"k":3,"y":670,"x":290.8},{"k":3,"y":730,"x":291.1},{"k":3,"y":790,"x":291.4},{"k":3,"y":850,"x":291.75},{"k":3,"y":900,"x":292.1},
{"k":4,"y":48,"x":287.3},{"k":4,"y":90,"x":287.5},{"k":4,"y":130,"x":287.65},{"k":4,"y":170,"x":287.8},{"k":4,"y":220,"x":288.05},{"k":4,"y":270,"x":288.35},{"k":4,"y":310,"x":288.6},{"k":4,"y":345,"x":288.9},{"k":4,"y":370,"x":289.25},{"k":4,"y":410,"x":289.65},{"k":4,"y":450,"x":289.85},{"k":4,"y":500,"x":290.1},{"k":4,"y":560,"x":290.35},{"k":4,"y":631,"x":290.55},
{"k":5,"y":55,"x":287.5},{"k":5,"y":100,"x":287.7},{"k":5,"y":150,"x":287.9},{"k":5,"y":190,"x":288.1},{"k":5,"y":240,"x":288.4},{"k":5,"y":290,"x":288.75},{"k":5,"y":330,"x":289.1},{"k":5,"y":360,"x":289.4},{"k":5,"y":400,"x":289.7},{"k":5,"y":440,"x":289.9},{"k":5,"y":490,"x":290.15},{"k":5,"y":550,"x":290.4},{"k":5,"y":610,"x":290.6},{"k":5,"y":670,"x":290.85},{"k":5,"y":740,"x":291.15},{"k":5,"y":800,"x":291.4},{"k":5,"y":860,"x":291.7},{"k":5,"y":900,"x":291.95},
{"k":6,"y":45,"x":287.25},{"k":6,"y":85,"x":287.45},{"k":6,"y":125,"x":287.6},{"k":6,"y":165,"x":287.75},{"k":6,"y":210,"x":287.95},{"k":6,"y":260,"x":288.25},{"k":6,"y":300,"x":288.55},{"k":6,"y":340,"x":288.85},{"k":6,"y":370,"x":289.1},{"k":6,"y":410,"x":289.5},{"k":6,"y":450,"x":289.75},{"k":6,"y":500,"x":290.0},{"k":6,"y":560,"x":290.3},{"k":6,"y":620,"x":290.55},{"k":6,"y":680,"x":290.8},{"k":6,"y":740,"x":291.05},{"k":6,"y":800,"x":291.35},{"k":6,"y":860,"x":291.6},{"k":6,"y":920,"x":291.9}
],
"h":[
{"k":1,"y":40,"x":236},{"k":1,"y":70,"x":235},{"k":1,"y":100,"x":237.5},{"k":1,"y":130,"x":238.5},{"k":1,"y":160,"x":238.3},{"k":1,"y":190,"x":238.8},{"k":1,"y":220,"x":241.5},{"k":1,"y":260,"x":244.5},{"k":1,"y":300,"x":247},{"k":1,"y":342,"x":249.5},{"k":1,"y":380,"x":249.8},{"k":1,"y":425,"x":249},{"k":1,"y":480,"x":248.5},{"k":1,"y":526,"x":247.8},{"k":1,"y":580,"x":246.5},{"k":1,"y":627,"x":244.8},{"k":1,"y":664,"x":244.3},{"k":1,"y":700,"x":246.5},{"k":1,"y":728,"x":248.4},{"k":1,"y":765,"x":251.2},{"k":1,"y":820,"x":251.2},{"k":1,"y":880,"x":251},{"k":1,"y":958,"x":250.8},
{"k":2,"y":45,"x":237},{"k":2,"y":80,"x":238.5},{"k":2,"y":120,"x":240.5},{"k":2,"y":160,"x":243},{"k":2,"y":200,"x":246},{"k":2,"y":250,"x":250},{"k":2,"y":303,"x":255},{"k":2,"y":358,"x":259.5},{"k":2,"y":394,"x":263},{"k":2,"y":430,"x":263.5},{"k":2,"y":480,"x":261.5},{"k":2,"y":526,"x":258.5},{"k":2,"y":570,"x":255.5},{"k":2,"y":608,"x":252.5},{"k":2,"y":650,"x":251},{"k":2,"y":700,"x":250.5},{"k":2,"y":760,"x":251.5},{"k":2,"y":800,"x":253},{"k":2,"y":840,"x":256},{"k":2,"y":880,"x":258.5},{"k":2,"y":920,"x":259},{"k":2,"y":950,"x":261},
{"k":3,"y":50,"x":238},{"k":3,"y":90,"x":240},{"k":3,"y":130,"x":242.5},{"k":3,"y":170,"x":245},{"k":3,"y":210,"x":247.5},{"k":3,"y":260,"x":250.5},{"k":3,"y":300,"x":252},{"k":3,"y":342,"x":253.5},{"k":3,"y":380,"x":254},{"k":3,"y":425,"x":254.5},{"k":3,"y":480,"x":254.5},{"k":3,"y":530,"x":254},{"k":3,"y":580,"x":253},{"k":3,"y":630,"x":251.5},{"k":3,"y":680,"x":250.5},{"k":3,"y":730,"x":251.5},{"k":3,"y":770,"x":254},{"k":3,"y":800,"x":256},{"k":3,"y":840,"x":258.5},{"k":3,"y":880,"x":260.5},{"k":3,"y":920,"x":261},{"k":3,"y":955,"x":263},
{"k":4,"y":55,"x":239.5},{"k":4,"y":95,"x":241},{"k":4,"y":135,"x":243.5},{"k":4,"y":175,"x":246},{"k":4,"y":215,"x":248.5},{"k":4,"y":260,"x":251},{"k":4,"y":300,"x":253},{"k":4,"y":342,"x":254.5},{"k":4,"y":380,"x":255},{"k":4,"y":425,"x":256},{"k":4,"y":470,"x":257},{"k":4,"y":520,"x":257.5},{"k":4,"y":570,"x":256},{"k":4,"y":610,"x":253.5},{"k":4,"y":660,"x":251},{"k":4,"y":700,"x":250.5},{"k":4,"y":740,"x":252},{"k":4,"y":780,"x":255.5},{"k":4,"y":830,"x":257.5},{"k":4,"y":870,"x":259.5},{"k":4,"y":910,"x":262.5},{"k":4,"y":950,"x":263.5},
{"k":5,"y":45,"x":238.5},{"k":5,"y":85,"x":239.5},{"k":5,"y":125,"x":242},{"k":5,"y":165,"x":244},{"k":5,"y":205,"x":246.5},{"k":5,"y":250,"x":249},{"k":5,"y":300,"x":251.5},{"k":5,"y":342,"x":252.5},{"k":5,"y":380,"x":252},{"k":5,"y":425,"x":251.5},{"k":5,"y":470,"x":251},{"k":5,"y":520,"x":250.5},{"k":5,"y":570,"x":249.5},{"k":5,"y":620,"x":247.5},{"k":5,"y":660,"x":246},{"k":5,"y":700,"x":247},{"k":5,"y":740,"x":249.5},{"k":5,"y":780,"x":252.5},{"k":5,"y":830,"x":254.5},{"k":5,"y":880,"x":257.5},{"k":5,"y":925,"x":259.5},{"k":5,"y":950,"x":258.5},
{"k":6,"y":50,"x":237.5},{"k":6,"y":90,"x":239},{"k":6,"y":130,"x":241},{"k":6,"y":170,"x":243.5},{"k":6,"y":210,"x":245.5},{"k":6,"y":250,"x":248},{"k":6,"y":300,"x":250.5},{"k":6,"y":342,"x":251.5},{"k":6,"y":380,"x":251},{"k":6,"y":425,"x":250},{"k":6,"y":470,"x":249.5},{"k":6,"y":520,"x":249},{"k":6,"y":570,"x":248},{"k":6,"y":620,"x":246.5},{"k":6,"y":660,"x":245.5},{"k":6,"y":700,"x":246.5},{"k":6,"y":740,"x":249.5},{"k":6,"y":780,"x":253},{"k":6,"y":820,"x":255.5},{"k":6,"y":860,"x":258},{"k":6,"y":900,"x":260.5},{"k":6,"y":940,"x":262},{"k":6,"y":960,"x":261.5}
],
"i":[
{"k":1,"y":45,"x":9.6},{"k":1,"y":60,"x":10.3},{"k":1,"y":80,"x":11.0},{"k":1,"y":100,"x":11.9},{"k":1,"y":130,"x":12.8},{"k":1,"y":160,"x":13.5},{"k":1,"y":190,"x":14.3},{"k":1,"y":220,"x":14.6},{"k":1,"y":250,"x":14.3},{"k":1,"y":280,"x":14.0},{"k":1,"y":310,"x":14.2},{"k":1,"y":342,"x":14.6},{"k":1,"y":380,"x":14.0},{"k":1,"y":425,"x":13.3},{"k":1,"y":470,"x":12.7},{"k":1,"y":520,"x":12.2},{"k":1,"y":570,"x":11.6},{"k":1,"y":610,"x":11.1},{"k":1,"y":640,"x":11.3},{"k":1,"y":680,"x":11.9},{"k":1,"y":720,"x":12.3},{"k":1,"y":760,"x":12.0},{"k":1,"y":800,"x":12.2},{"k":1,"y":840,"x":12.5},{"k":1,"y":880,"x":12.3},{"k":1,"y":930,"x":12.7},
{"k":2,"y":50,"x":10.8},{"k":2,"y":80,"x":11.6},{"k":2,"y":110,"x":12.6},{"k":2,"y":140,"x":13.6},{"k":2,"y":170,"x":14.5},{"k":2,"y":200,"x":14.9},{"k":2,"y":240,"x":14.6},{"k":2,"y":280,"x":14.3},{"k":2,"y":320,"x":14.7},{"k":2,"y":342,"x":15.0},{"k":2,"y":380,"x":14.8},{"k":2,"y":425,"x":14.0},{"k":2,"y":470,"x":13.3},{"k":2,"y":520,"x":12.6},{"k":2,"y":570,"x":12.1},{"k":2,"y":610,"x":11.5},{"k":2,"y":640,"x":11.7},{"k":2,"y":680,"x":12.3},{"k":2,"y":720,"x":12.9},{"k":2,"y":760,"x":13.3},{"k":2,"y":800,"x":13.0},{"k":2,"y":840,"x":12.8},{"k":2,"y":880,"x":13.1},{"k":2,"y":920,"x":13.5},{"k":2,"y":950,"x":14.3},
{"k":3,"y":45,"x":12.2},{"k":3,"y":80,"x":13.2},{"k":3,"y":110,"x":14.5},{"k":3,"y":140,"x":15.8},{"k":3,"y":170,"x":15.9},{"k":3,"y":200,"x":15.2},{"k":3,"y":240,"x":14.6},{"k":3,"y":280,"x":14.9},{"k":3,"y":320,"x":15.4},{"k":3,"y":342,"x":16.2},{"k":3,"y":370,"x":15.6},{"k":3,"y":425,"x":14.2},{"k":3,"y":470,"x":13.7},{"k":3,"y":520,"x":13.4},{"k":3,"y":570,"x":13.5},{"k":3,"y":620,"x":13.7},{"k":3,"y":670,"x":13.9},{"k":3,"y":720,"x":14.2},{"k":3,"y":770,"x":14.6},{"k":3,"y":820,"x":15.2},{"k":3,"y":870,"x":15.7},{"k":3,"y":920,"x":16.4},{"k":3,"y":960,"x":16.9},
{"k":4,"y":48,"x":11.6},{"k":4,"y":80,"x":12.5},{"k":4,"y":110,"x":13.7},{"k":4,"y":140,"x":14.9},{"k":4,"y":170,"x":15.6},{"k":4,"y":200,"x":15.3},{"k":4,"y":240,"x":14.7},{"k":4,"y":280,"x":15.1},{"k":4,"y":320,"x":15.3},{"k":4,"y":342,"x":15.0},{"k":4,"y":380,"x":14.4},{"k":4,"y":425,"x":13.8},{"k":4,"y":470,"x":13.2},{"k":4,"y":520,"x":12.8},{"k":4,"y":570,"x":12.4},{"k":4,"y":620,"x":12.8},{"k":4,"y":670,"x":13.4},{"k":4,"y":720,"x":14.0},{"k":4,"y":760,"x":14.5},{"k":4,"y":800,"x":14.0},{"k":4,"y":840,"x":13.7},{"k":4,"y":880,"x":14.1},{"k":4,"y":920,"x":14.6},{"k":4,"y":955,"x":14.9},
{"k":5,"y":50,"x":12.6},{"k":5,"y":80,"x":13.5},{"k":5,"y":110,"x":14.6},{"k":5,"y":140,"x":15.5},{"k":5,"y":170,"x":15.3},{"k":5,"y":200,"x":14.8},{"k":5,"y":240,"x":14.4},{"k":5,"y":280,"x":14.6},{"k":5,"y":320,"x":15.1},{"k":5,"y":360,"x":14.6},{"k":5,"y":400,"x":14.0},{"k":5,"y":440,"x":13.5},{"k":5,"y":490,"x":13.2},{"k":5,"y":540,"x":13.0},{"k":5,"y":590,"x":12.5},{"k":5,"y":640,"x":12.6},{"k":5,"y":690,"x":13.2},{"k":5,"y":740,"x":13.7},{"k":5,"y":790,"x":14.1},{"k":5,"y":840,"x":13.8},{"k":5,"y":880,"x":13.5},{"k":5,"y":920,"x":13.9},{"k":5,"y":950,"x":14.5}
],
"j":[
{"k":1,"y":40,"x":0.03},{"k":1,"y":50,"x":0.41},{"k":1,"y":60,"x":0.06},{"k":1,"y":70,"x":0.31},{"k":1,"y":80,"x":0.12},{"k":1,"y":90,"x":0.27},{"k":1,"y":100,"x":0.38},{"k":1,"y":110,"x":0.09},{"k":1,"y":120,"x":0.24},{"k":1,"y":130,"x":0.14},{"k":1,"y":140,"x":0.21},{"k":1,"y":150,"x":0.07},{"k":1,"y":160,"x":0.17},{"k":1,"y":170,"x":0.06},{"k":1,"y":180,"x":0.13},{"k":1,"y":190,"x":0.05},
{"k":1,"y":200,"x":0.1},{"k":1,"y":210,"x":0.03},{"k":1,"y":220,"x":0.08},{"k":1,"y":230,"x":0.02},{"k":1,"y":240,"x":0.06},{"k":1,"y":250,"x":0.03},{"k":1,"y":260,"x":0.05},{"k":1,"y":270,"x":0.01},{"k":1,"y":280,"x":0.045},{"k":1,"y":290,"x":0.02},{"k":1,"y":300,"x":0.04},
{"k":1,"y":310,"x":0.01},{"k":1,"y":320,"x":0.025},{"k":1,"y":330,"x":0.008},{"k":1,"y":340,"x":0.015},{"k":1,"y":350,"x":0.005},{"k":1,"y":360,"x":0.012},{"k":1,"y":370,"x":0.004},{"k":1,"y":380,"x":0.01},{"k":1,"y":390,"x":0.003},{"k":1,"y":400,"x":0.008},
{"k":1,"y":410,"x":0.003},{"k":1,"y":420,"x":0.007},{"k":1,"y":430,"x":0.002},{"k":1,"y":440,"x":0.006},{"k":1,"y":450,"x":0.002},{"k":1,"y":460,"x":0.006},{"k":1,"y":470,"x":0.002},{"k":1,"y":480,"x":0.007},{"k":1,"y":490,"x":0.003},{"k":1,"y":500,"x":0.008},
{"k":1,"y":510,"x":0.003},{"k":1,"y":520,"x":0.01},{"k":1,"y":530,"x":0.004},{"k":1,"y":540,"x":0.012},{"k":1,"y":550,"x":0.004},{"k":1,"y":560,"x":0.015},{"k":1,"y":570,"x":0.005},{"k":1,"y":580,"x":0.02},{"k":1,"y":590,"x":0.006},{"k":1,"y":600,"x":0.025},
{"k":1,"y":610,"x":0.008},{"k":1,"y":620,"x":0.03},{"k":1,"y":630,"x":0.01},{"k":1,"y":640,"x":0.035},{"k":1,"y":650,"x":0.012},{"k":1,"y":660,"x":0.03},{"k":1,"y":670,"x":0.01},{"k":1,"y":680,"x":0.025},{"k":1,"y":690,"x":0.008},{"k":1,"y":700,"x":0.02},
{"k":1,"y":710,"x":0.006},{"k":1,"y":720,"x":0.018},{"k":1,"y":730,"x":0.01},{"k":1,"y":740,"x":0.26},{"k":1,"y":750,"x":0.02},{"k":1,"y":760,"x":0.03},{"k":1,"y":770,"x":0.01},{"k":1,"y":780,"x":0.05},{"k":1,"y":790,"x":0.015},{"k":1,"y":800,"x":0.27},
{"k":1,"y":810,"x":0.03},{"k":1,"y":820,"x":0.12},{"k":1,"y":830,"x":0.28},{"k":1,"y":840,"x":0.06},{"k":1,"y":850,"x":0.14},{"k":1,"y":860,"x":0.04},{"k":1,"y":870,"x":0.2},{"k":1,"y":880,"x":0.07},{"k":1,"y":890,"x":0.13},{"k":1,"y":900,"x":0.04},
{"k":1,"y":910,"x":0.11},{"k":1,"y":920,"x":0.06},{"k":1,"y":930,"x":0.16},{"k":1,"y":940,"x":0.09},{"k":1,"y":950,"x":0.22},{"k":1,"y":960,"x":0.03},
{"k":2,"y":45,"x":0.2},{"k":2,"y":55,"x":0.08},{"k":2,"y":65,"x":0.35},{"k":2,"y":75,"x":0.04},{"k":2,"y":85,"x":0.22},{"k":2,"y":95,"x":0.15},{"k":2,"y":105,"x":0.3},{"k":2,"y":115,"x":0.05},{"k":2,"y":125,"x":0.19},{"k":2,"y":135,"x":0.1},{"k":2,"y":145,"x":0.26},{"k":2,"y":155,"x":0.04},{"k":2,"y":165,"x":0.12},{"k":2,"y":175,"x":0.09},{"k":2,"y":185,"x":0.16},{"k":2,"y":195,"x":0.03},
{"k":2,"y":205,"x":0.07},{"k":2,"y":215,"x":0.05},{"k":2,"y":225,"x":0.1},{"k":2,"y":235,"x":0.03},{"k":2,"y":245,"x":0.07},{"k":2,"y":255,"x":0.02},{"k":2,"y":265,"x":0.06},{"k":2,"y":275,"x":0.02},{"k":2,"y":285,"x":0.05},{"k":2,"y":295,"x":0.01},{"k":2,"y":305,"x":0.06},
{"k":2,"y":315,"x":0.02},{"k":2,"y":325,"x":0.035},{"k":2,"y":335,"x":0.01},{"k":2,"y":345,"x":0.02},{"k":2,"y":355,"x":0.004},{"k":2,"y":365,"x":0.01},{"k":2,"y":375,"x":0.003},{"k":2,"y":385,"x":0.008},{"k":2,"y":395,"x":0.002},{"k":2,"y":405,"x":0.006},
{"k":2,"y":415,"x":0.002},{"k":2,"y":425,"x":0.005},{"k":2,"y":435,"x":0.001},{"k":2,"y":445,"x":0.004},{"k":2,"y":455,"x":0.001},{"k":2,"y":465,"x":0.004},{"k":2,"y":475,"x":0.001},{"k":2,"y":485,"x":0.005},{"k":2,"y":495,"x":0.002},{"k":2,"y":505,"x":0.006},
{"k":2,"y":515,"x":0.002},{"k":2,"y":525,"x":0.008},{"k":2,"y":535,"x":0.003},{"k":2,"y":545,"x":0.01},{"k":2,"y":555,"x":0.003},{"k":2,"y":565,"x":0.012},{"k":2,"y":575,"x":0.004},{"k":2,"y":585,"x":0.018},{"k":2,"y":595,"x":0.005},{"k":2,"y":605,"x":0.03},
{"k":2,"y":615,"x":0.006},{"k":2,"y":625,"x":0.04},{"k":2,"y":635,"x":0.008},{"k":2,"y":645,"x":0.028},{"k":2,"y":655,"x":0.01},{"k":2,"y":665,"x":0.035},{"k":2,"y":675,"x":0.008},{"k":2,"y":685,"x":0.02},{"k":2,"y":695,"x":0.006},{"k":2,"y":705,"x":0.015},
{"k":2,"y":715,"x":0.005},{"k":2,"y":725,"x":0.02},{"k":2,"y":735,"x":0.1},{"k":2,"y":745,"x":0.15},{"k":2,"y":755,"x":0.015},{"k":2,"y":765,"x":0.025},{"k":2,"y":775,"x":0.03},{"k":2,"y":785,"x":0.02},{"k":2,"y":795,"x":0.1},{"k":2,"y":805,"x":0.27},
{"k":2,"y":815,"x":0.06},{"k":2,"y":825,"x":0.2},{"k":2,"y":835,"x":0.1},{"k":2,"y":845,"x":0.04},{"k":2,"y":855,"x":0.08},{"k":2,"y":865,"x":0.12},{"k":2,"y":875,"x":0.05},{"k":2,"y":885,"x":0.18},{"k":2,"y":895,"x":0.06},{"k":2,"y":905,"x":0.09},
{"k":2,"y":915,"x":0.03},{"k":2,"y":925,"x":0.12},{"k":2,"y":935,"x":0.05},{"k":2,"y":945,"x":0.15},{"k":2,"y":955,"x":0.08},
{"k":3,"y":42,"x":0.1},{"k":3,"y":52,"x":0.33},{"k":3,"y":62,"x":0.15},{"k":3,"y":72,"x":0.4},{"k":3,"y":82,"x":0.07},{"k":3,"y":92,"x":0.32},{"k":3,"y":102,"x":0.12},{"k":3,"y":112,"x":0.36},{"k":3,"y":122,"x":0.08},{"k":3,"y":132,"x":0.2},{"k":3,"y":142,"x":0.05},{"k":3,"y":152,"x":0.22},{"k":3,"y":162,"x":0.07},{"k":3,"y":172,"x":0.18},{"k":3,"y":182,"x":0.04},{"k":3,"y":192,"x":0.14},{"k":3,"y":202,"x":0.03},{"k":3,"y":212,"x":0.09},{"k":3,"y":222,"x":0.02},{"k":3,"y":232,"x":0.07},{"k":3,"y":242,"x":0.03},{"k":3,"y":252,"x":0.08},{"k":3,"y":262,"x":0.02},{"k":3,"y":272,"x":0.06},{"k":3,"y":282,"x":0.01},{"k":3,"y":292,"x":0.04},{"k":3,"y":302,"x":0.01},
{"k":4,"y":732,"x":0.01},{"k":4,"y":742,"x":0.2},{"k":4,"y":752,"x":0.04},{"k":4,"y":762,"x":0.1},{"k":4,"y":772,"x":0.02},{"k":4,"y":782,"x":0.08},{"k":4,"y":792,"x":0.03},{"k":4,"y":802,"x":0.2},{"k":4,"y":812,"x":0.05},{"k":4,"y":822,"x":0.26},{"k":4,"y":832,"x":0.04},{"k":4,"y":842,"x":0.15},{"k":4,"y":852,"x":0.03},{"k":4,"y":862,"x":0.17},{"k":4,"y":872,"x":0.06},{"k":4,"y":882,"x":0.1},{"k":4,"y":892,"x":0.02},{"k":4,"y":902,"x":0.14},{"k":4,"y":912,"x":0.05},{"k":4,"y":922,"x":0.13},{"k":4,"y":932,"x":0.07},{"k":4,"y":942,"x":0.19},{"k":4,"y":952,"x":0.04}
]
},
"spacing":22,
"resolve":{"scale":{"color":"independent","strokeDash":"independent"}},
"vconcat":[
{"hconcat":[
 {"width":142,"height":368,"title":"(a)","layer":[
  {"data":{"name":"band"},"mark":{"type":"rect","color":"#b6b6b6"},"encoding":{"y":{"field":"lo","type":"quantitative","scale":{"domain":[0,1000],"nice":false},"axis":{"values":[0,200,400,600,800,1000],"format":"d","title":"Altitude [m]","labelFontSize":17,"titleFontSize":22,"labelPadding":10,"titlePadding":15}},"y2":{"field":"hi"}}},
  {"data":{"name":"a3"},"mark":{"type":"line","clip":true,"strokeWidth":2,"opacity":0.9},"encoding":{"x":{"field":"x","type":"quantitative","scale":{"domain":[285,292],"nice":false,"zero":false},"axis":{"values":[285,287.5,290],"format":".1f","title":null}},"y":{"field":"y","type":"quantitative"},"detail":{"field":"k"},"order":{"field":"y","type":"quantitative"},"color":{"datum":"3fa_025","type":"nominal","scale":{"domain":["3fa_025 PBLH","3fa_025","mfa_025 PBLH","mfa_025"],"range":["#6464ff","#0000ff","#ff6464","#ff0000"]},"legend":{"title":null}},"strokeDash":{"datum":"3fa_025","type":"nominal","scale":{"domain":["3fa_025 PBLH","3fa_025","mfa_025 PBLH","mfa_025"],"range":[[10,5],[1,0],[10,5],[1,0]]},"legend":{"title":null}}}},
  {"data":{"name":"am"},"mark":{"type":"line","clip":true,"strokeWidth":2,"opacity":0.9},"encoding":{"x":{"field":"x","type":"quantitative"},"y":{"field":"y","type":"quantitative"},"detail":{"field":"k"},"order":{"field":"y","type":"quantitative"},"color":{"datum":"mfa_025","type":"nominal"},"strokeDash":{"datum":"mfa_025","type":"nominal"}}},
  {"data":{"name":"pbl"},"mark":{"type":"rule","strokeWidth":2.5},"encoding":{"y":{"field":"y","type":"quantitative"},"color":{"field":"s","type":"nominal","legend":{"title":null}},"strokeDash":{"field":"s","type":"nominal","legend":{"title":null}}}}
 ]},
 {"width":142,"height":368,"title":"(b)","layer":[
  {"data":{"name":"band"},"mark":{"type":"rect","color":"#b6b6b6"},"encoding":{"y":{"field":"lo","type":"quantitative","scale":{"domain":[0,1000],"nice":false},"axis":{"values":[0,200,400,600,800,1000],"labels":false,"title":null}},"y2":{"field":"hi"}}},
  {"data":{"name":"b3"},"mark":{"type":"line","clip":true,"strokeWidth":2,"opacity":0.9},"encoding":{"x":{"field":"x","type":"quantitative","scale":{"domain":[285,292],"nice":false,"zero":false},"axis":{"values":[285,287.5,290],"format":".1f","title":null}},"y":{"field":"y","type":"quantitative"},"detail":{"field":"k"},"order":{"field":"y","type":"quantitative"},"color":{"datum":"3fa_025","type":"nominal"},"strokeDash":{"datum":"3fa_025","type":"nominal"}}},
  {"data":{"name":"bm"},"mark":{"type":"line","clip":true,"strokeWidth":2,"opacity":0.9},"encoding":{"x":{"field":"x","type":"quantitative"},"y":{"field":"y","type":"quantitative"},"detail":{"field":"k"},"order":{"field":"y","type":"quantitative"},"color":{"datum":"mfa_025","type":"nominal"},"strokeDash":{"datum":"mfa_025","type":"nominal"}}},
  {"data":{"name":"pbl"},"mark":{"type":"rule","strokeWidth":2.5},"encoding":{"y":{"field":"y","type":"quantitative"},"color":{"field":"s","type":"nominal"},"strokeDash":{"field":"s","type":"nominal"}}}
 ]},
 {"width":142,"height":368,"title":"(c)","layer":[
  {"data":{"name":"band"},"mark":{"type":"rect","color":"#b6b6b6"},"encoding":{"y":{"field":"lo","type":"quantitative","scale":{"domain":[0,1000],"nice":false},"axis":{"values":[0,200,400,600,800,1000],"labels":false,"title":null}},"y2":{"field":"hi"}}},
  {"data":{"name":"c3"},"mark":{"type":"line","clip":true,"strokeWidth":2,"opacity":0.9},"encoding":{"x":{"field":"x","type":"quantitative","scale":{"domain":[225,275],"nice":false,"zero":false},"axis":{"values":[240,260],"title":null}},"y":{"field":"y","type":"quantitative"},"detail":{"field":"k"},"order":{"field":"y","type":"quantitative"},"color":{"datum":"3fa_025","type":"nominal"},"strokeDash":{"datum":"3fa_025","type":"nominal"}}},
  {"data":{"name":"cm"},"mark":{"type":"line","clip":true,"strokeWidth":2,"opacity":0.9},"encoding":{"x":{"field":"x","type":"quantitative"},"y":{"field":"y","type":"quantitative"},"detail":{"field":"k"},"order":{"field":"y","type":"quantitative"},"color":{"datum":"mfa_025","type":"nominal"},"strokeDash":{"datum":"mfa_025","type":"nominal"}}},
  {"data":{"name":"pbl"},"mark":{"type":"rule","strokeWidth":2.5},"encoding":{"y":{"field":"y","type":"quantitative"},"color":{"field":"s","type":"nominal"},"strokeDash":{"field":"s","type":"nominal"}}}
 ]},
 {"width":142,"height":368,"title":"(d)","layer":[
  {"data":{"name":"band"},"mark":{"type":"rect","color":"#b6b6b6"},"encoding":{"y":{"field":"lo","type":"quantitative","scale":{"domain":[0,1000],"nice":false},"axis":{"values":[0,200,400,600,800,1000],"labels":false,"title":null}},"y2":{"field":"hi"}}},
  {"data":{"name":"d3"},"mark":{"type":"line","clip":true,"strokeWidth":2,"opacity":0.9},"encoding":{"x":{"field":"x","type":"quantitative","scale":{"domain":[6.9,17],"nice":false,"zero":false},"axis":{"values":[10,15],"title":null}},"y":{"field":"y","type":"quantitative"},"detail":{"field":"k"},"order":{"field":"y","type":"quantitative"},"color":{"datum":"3fa_025","type":"nominal"},"strokeDash":{"datum":"3fa_025","type":"nominal"}}},
  {"data":{"name":"dm"},"mark":{"type":"line","clip":true,"strokeWidth":2,"opacity":0.9},"encoding":{"x":{"field":"x","type":"quantitative"},"y":{"field":"y","type":"quantitative"},"detail":{"field":"k"},"order":{"field":"y","type":"quantitative"},"color":{"datum":"mfa_025","type":"nominal"},"strokeDash":{"datum":"mfa_025","type":"nominal"}}},
  {"data":{"name":"pbl"},"mark":{"type":"rule","strokeWidth":2.5},"encoding":{"y":{"field":"y","type":"quantitative"},"color":{"field":"s","type":"nominal"},"strokeDash":{"field":"s","type":"nominal"}}}
 ]},
 {"width":142,"height":368,"title":"(e)","layer":[
  {"data":{"name":"band"},"mark":{"type":"rect","color":"#b6b6b6"},"encoding":{"y":{"field":"lo","type":"quantitative","scale":{"domain":[0,1000],"nice":false},"axis":{"values":[0,200,400,600,800,1000],"labels":false,"title":null}},"y2":{"field":"hi"}}},
  {"data":{"name":"e3"},"mark":{"type":"line","clip":true,"strokeWidth":2,"opacity":0.9},"encoding":{"x":{"field":"x","type":"quantitative","scale":{"domain":[0,0.5],"nice":false,"zero":false},"axis":{"values":[0,0.2,0.4],"format":".1f","title":null}},"y":{"field":"y","type":"quantitative"},"detail":{"field":"k"},"order":{"field":"y","type":"quantitative"},"color":{"datum":"3fa_025","type":"nominal"},"strokeDash":{"datum":"3fa_025","type":"nominal"}}},
  {"data":{"name":"em"},"mark":{"type":"line","clip":true,"strokeWidth":2,"opacity":0.9},"encoding":{"x":{"field":"x","type":"quantitative"},"y":{"field":"y","type":"quantitative"},"detail":{"field":"k"},"order":{"field":"y","type":"quantitative"},"color":{"datum":"mfa_025","type":"nominal"},"strokeDash":{"datum":"mfa_025","type":"nominal"}}},
  {"data":{"name":"pbl"},"mark":{"type":"rule","strokeWidth":2.5},"encoding":{"y":{"field":"y","type":"quantitative"},"color":{"field":"s","type":"nominal"},"strokeDash":{"field":"s","type":"nominal"}}}
 ]}
],"spacing":29,"bounds":"flush"},
{"hconcat":[
 {"width":142,"height":367,"title":"(f)","layer":[
  {"data":{"name":"band"},"mark":{"type":"rect","color":"#b6b6b6"},"encoding":{"y":{"field":"lo","type":"quantitative","scale":{"domain":[0,1000],"nice":false},"axis":{"values":[0,200,400,600,800,1000],"format":"d","title":"Altitude [m]","labelFontSize":17,"titleFontSize":22,"labelPadding":10,"titlePadding":15}},"y2":{"field":"hi"}}},
  {"data":{"name":"f"},"mark":{"type":"line","clip":true,"strokeWidth":1.8},"encoding":{"x":{"field":"x","type":"quantitative","scale":{"domain":[285,292],"nice":false,"zero":false},"axis":{"values":[285,287.5,290],"format":".1f","title":"T [K]","titleFontSize":20,"titlePadding":20}},"y":{"field":"y","type":"quantitative"},"detail":{"field":"k"},"order":{"field":"y","type":"quantitative"},"color":{"datum":"Profile Observations","type":"nominal","scale":{"domain":["3fa_025 PBLH","mfa_025 PBLH","Profile Observations"],"range":["#6464ff","#ff6464","#000000"]},"legend":{"title":null}},"strokeDash":{"datum":"Profile Observations","type":"nominal","scale":{"domain":["3fa_025 PBLH","mfa_025 PBLH","Profile Observations"],"range":[[10,5],[10,5],[1,0]]},"legend":{"title":null}}}},
  {"data":{"name":"pbl"},"mark":{"type":"rule","strokeWidth":2.5},"encoding":{"y":{"field":"y","type":"quantitative"},"color":{"field":"s","type":"nominal","legend":{"title":null}},"strokeDash":{"field":"s","type":"nominal","legend":{"title":null}}}}
 ]},
 {"width":142,"height":367,"title":"(g)","layer":[
  {"data":{"name":"band"},"mark":{"type":"rect","color":"#b6b6b6"},"encoding":{"y":{"field":"lo","type":"quantitative","scale":{"domain":[0,1000],"nice":false},"axis":{"values":[0,200,400,600,800,1000],"labels":false,"title":null}},"y2":{"field":"hi"}}},
  {"data":{"name":"g"},"mark":{"type":"line","clip":true,"strokeWidth":1.8},"encoding":{"x":{"field":"x","type":"quantitative","scale":{"domain":[285,292],"nice":false,"zero":false},"axis":{"values":[285,287.5,290],"format":".1f","title":"θ [K]","titleFontSize":20,"titlePadding":20}},"y":{"field":"y","type":"quantitative"},"detail":{"field":"k"},"order":{"field":"y","type":"quantitative"},"color":{"datum":"Profile Observations","type":"nominal"},"strokeDash":{"datum":"Profile Observations","type":"nominal"}}},
  {"data":{"name":"pbl"},"mark":{"type":"rule","strokeWidth":2.5},"encoding":{"y":{"field":"y","type":"quantitative"},"color":{"field":"s","type":"nominal"},"strokeDash":{"field":"s","type":"nominal"}}}
 ]},
 {"width":142,"height":367,"title":"(h)","layer":[
  {"data":{"name":"band"},"mark":{"type":"rect","color":"#b6b6b6"},"encoding":{"y":{"field":"lo","type":"quantitative","scale":{"domain":[0,1000],"nice":false},"axis":{"values":[0,200,400,600,800,1000],"labels":false,"title":null}},"y2":{"field":"hi"}}},
  {"data":{"name":"h"},"mark":{"type":"line","clip":true,"strokeWidth":1.8},"encoding":{"x":{"field":"x","type":"quantitative","scale":{"domain":[225,275],"nice":false,"zero":false},"axis":{"values":[240,260],"title":"WD [degrees]","titleFontSize":20,"titlePadding":20}},"y":{"field":"y","type":"quantitative"},"detail":{"field":"k"},"order":{"field":"y","type":"quantitative"},"color":{"datum":"Profile Observations","type":"nominal"},"strokeDash":{"datum":"Profile Observations","type":"nominal"}}},
  {"data":{"name":"pbl"},"mark":{"type":"rule","strokeWidth":2.5},"encoding":{"y":{"field":"y","type":"quantitative"},"color":{"field":"s","type":"nominal"},"strokeDash":{"field":"s","type":"nominal"}}}
 ]},
 {"width":142,"height":367,"title":"(i)","layer":[
  {"data":{"name":"band"},"mark":{"type":"rect","color":"#b6b6b6"},"encoding":{"y":{"field":"lo","type":"quantitative","scale":{"domain":[0,1000],"nice":false},"axis":{"values":[0,200,400,600,800,1000],"labels":false,"title":null}},"y2":{"field":"hi"}}},
  {"data":{"name":"i"},"mark":{"type":"line","clip":true,"strokeWidth":1.8},"encoding":{"x":{"field":"x","type":"quantitative","scale":{"domain":[6.9,17],"nice":false,"zero":false},"axis":{"values":[10,15],"title":"WS [m s⁻¹]","titleFontSize":20,"titlePadding":20}},"y":{"field":"y","type":"quantitative"},"detail":{"field":"k"},"order":{"field":"y","type":"quantitative"},"color":{"datum":"Profile Observations","type":"nominal"},"strokeDash":{"datum":"Profile Observations","type":"nominal"}}},
  {"data":{"name":"pbl"},"mark":{"type":"rule","strokeWidth":2.5},"encoding":{"y":{"field":"y","type":"quantitative"},"color":{"field":"s","type":"nominal"},"strokeDash":{"field":"s","type":"nominal"}}}
 ]},
 {"width":142,"height":367,"title":"(j)","layer":[
  {"data":{"name":"band"},"mark":{"type":"rect","color":"#b6b6b6"},"encoding":{"y":{"field":"lo","type":"quantitative","scale":{"domain":[0,1000],"nice":false},"axis":{"values":[0,200,400,600,800,1000],"labels":false,"title":null}},"y2":{"field":"hi"}}},
  {"data":{"name":"j"},"mark":{"type":"line","clip":true,"strokeWidth":1.8},"encoding":{"x":{"field":"x","type":"quantitative","scale":{"domain":[0,0.5],"nice":false,"zero":false},"axis":{"values":[0,0.2,0.4],"format":".1f","title":"TKE [m² s⁻²]","titleFontSize":20,"titlePadding":20}},"y":{"field":"y","type":"quantitative"},"detail":{"field":"k"},"order":{"field":"y","type":"quantitative"},"color":{"datum":"Profile Observations","type":"nominal"},"strokeDash":{"datum":"Profile Observations","type":"nominal"}}},
  {"data":{"name":"pbl"},"mark":{"type":"rule","strokeWidth":2.5},"encoding":{"y":{"field":"y","type":"quantitative"},"color":{"field":"s","type":"nominal"},"strokeDash":{"field":"s","type":"nominal"}}}
 ]}
],"spacing":29,"bounds":"flush"}
]
}
